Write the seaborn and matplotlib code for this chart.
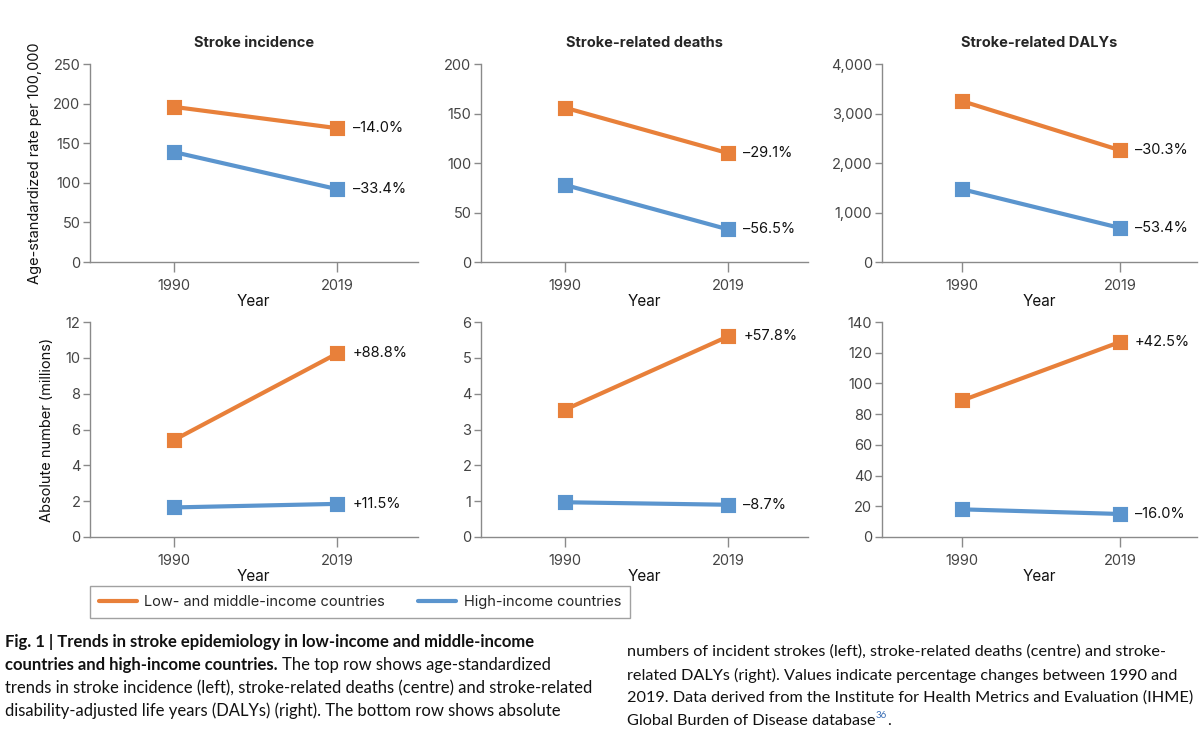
import matplotlib
matplotlib.use("Agg")
import matplotlib.pyplot as plt
from matplotlib.lines import Line2D
from matplotlib.ticker import FuncFormatter
import pandas as pd
import seaborn as sns

# values
years = ["1990", "2019"]
groups = ["Low- and middle-income countries", "High-income countries"]

incidence_rate_lmic = [196, 169]
incidence_rate_hic = [139, 92]
death_rate_lmic = [156, 110]
death_rate_hic = [78, 33]
daly_rate_lmic = [3250, 2260]
daly_rate_hic = [1470, 690]

incidence_abs_lmic = [5.4, 10.25]
incidence_abs_hic = [1.65, 1.85]
death_abs_lmic = [3.55, 5.6]
death_abs_hic = [0.97, 0.9]
daly_abs_lmic = [89, 127]
daly_abs_hic = [18, 15]

change_labels = [
    ["\u201314.0%", "\u201333.4%"],
    ["\u201329.1%", "\u201356.5%"],
    ["\u201330.3%", "\u201353.4%"],
    ["+88.8%", "+11.5%"],
    ["+57.8%", "\u20138.7%"],
    ["+42.5%", "\u201316.0%"],
]

titles = ["Stroke incidence", "Stroke-related deaths", "Stroke-related DALYs"]
y_ticks = [
    [0, 50, 100, 150, 200, 250],
    [0, 50, 100, 150, 200],
    [0, 1000, 2000, 3000, 4000],
    [0, 2, 4, 6, 8, 10, 12],
    [0, 1, 2, 3, 4, 5, 6],
    [0, 20, 40, 60, 80, 100, 120, 140],
]
row_labels = ["Age-standardized rate per 100,000", "Absolute number (millions)"]

series = [
    (incidence_rate_lmic, incidence_rate_hic),
    (death_rate_lmic, death_rate_hic),
    (daly_rate_lmic, daly_rate_hic),
    (incidence_abs_lmic, incidence_abs_hic),
    (death_abs_lmic, death_abs_hic),
    (daly_abs_lmic, daly_abs_hic),
]

orange = "#E8803A"
blue = "#5B95CE"
palette = {groups[0]: orange, groups[1]: blue}
spine_gray = "#8a8a8a"
tick_gray = "#444444"

sns.set_style("ticks")
plt.rcParams["font.family"] = ["Inter", "DejaVu Sans"]

fig = plt.figure(figsize=(12, 7.32), dpi=100)

# axes boxes in figure fractions
col_x = [(0.075, 0.273), (0.401, 0.2725), (0.735, 0.2625)]
row_y = [(0.642, 0.2705), (0.2664, 0.2936)]

for i, (lmic, hic) in enumerate(series):
    row, col = divmod(i, 3)
    x0, w = col_x[col]
    y0, h = row_y[row]
    ax = fig.add_axes([x0, y0, w, h])

    df = pd.DataFrame({
        "year": years * 2,
        "value": list(lmic) + list(hic),
        "group": [groups[0]] * 2 + [groups[1]] * 2,
    })
    sns.pointplot(
        data=df, x="year", y="value", hue="group",
        order=years, hue_order=groups, palette=palette,
        markers="s", markersize=8.5, linewidth=3,
        errorbar=None, legend=False, ax=ax,
    )

    # percentage change next to the 2019 point
    for vals, lab in zip((lmic, hic), change_labels[i]):
        ax.annotate(lab, xy=(1, vals[1]), xytext=(11, 0),
                    textcoords="offset points", va="center", ha="left",
                    fontsize=10.5, color="#111111")

    ticks = y_ticks[i]
    ax.set_ylim(0, ticks[-1])
    ax.set_yticks(ticks)
    ax.set_xlim(-0.51, 1.49)
    if col == 2 and row == 0:
        ax.yaxis.set_major_formatter(FuncFormatter(lambda v, p: f"{int(v):,}"))

    for side in ["top", "right"]:
        ax.spines[side].set_visible(False)
    for side in ["left", "bottom"]:
        ax.spines[side].set_color(spine_gray)
        ax.spines[side].set_linewidth(1.0)
    ax.tick_params(axis="y", colors=spine_gray, labelcolor=tick_gray,
                   labelsize=10.5, length=5, width=1, pad=2)
    ax.tick_params(axis="x", colors=spine_gray, labelcolor=tick_gray,
                   labelsize=10.5, length=7, width=1, pad=5)

    ax.set_xlabel("Year", fontsize=11, color="#111111", labelpad=1)
    if col == 0:
        ax.set_ylabel(row_labels[row], fontsize=10.5, color="#111111", labelpad=8)
    else:
        ax.set_ylabel("")
    if row == 0:
        ax.set_title(titles[col], fontsize=10.5, fontweight="bold", pad=12)

# legend box
handles = [Line2D([0], [0], color=orange, lw=3),
           Line2D([0], [0], color=blue, lw=3)]
leg = fig.legend(handles, groups, loc="center", bbox_to_anchor=(0.300, 0.1776),
                 ncol=2, frameon=True, fancybox=False, fontsize=10.5,
                 handlelength=2.6, columnspacing=2.3, borderpad=0.6,
                 handletextpad=0.5)
leg.get_frame().set_edgecolor(spine_gray)
leg.get_frame().set_linewidth(1.0)

# caption, two columns
W, H = 1200, 732
cap_font = ["Lato", "DejaVu Sans"]
fig.canvas.draw()
renderer = fig.canvas.get_renderer()


def put_runs(x_px, y_px, runs, size):
    x = x_px / W
    for text, bold in runs:
        t = fig.text(x, 1 - y_px / H, text, fontsize=size, va="center",
                     ha="left", family=cap_font,
                     fontweight="bold" if bold else "normal", color="#111111")
        bb = t.get_window_extent(renderer)
        x = bb.x1 / W
    return x


left_lines = [
    [("Fig. 1 | Trends in stroke epidemiology in low-income and middle-income", True)],
    [("countries and high-income countries. ", True),
     ("The top row shows age-standardized", False)],
    [("trends in stroke incidence (left), stroke-related deaths (centre) and stroke-related", False)],
    [("disability-adjusted life years (DALYs) (right). The bottom row shows absolute", False)],
]
right_lines = [
    "numbers of incident strokes (left), stroke-related deaths (centre) and stroke-",
    "related DALYs (right). Values indicate percentage changes between 1990 and",
    "2019. Data derived from the Institute for Health Metrics and Evaluation (IHME)",
]
left_size = 12.0
right_size = 11.7
for k, runs in enumerate(left_lines):
    put_runs(5, 642 + 23 * k, runs, left_size)
for k, line in enumerate(right_lines):
    put_runs(627, 652 + 23 * k, [(line, False)], right_size)

last_y = 652 + 23 * 3
end_x = put_runs(627, last_y, [("Global Burden of Disease database", False)], right_size)
sup = fig.text(end_x, 1 - (last_y - 6) / H, "36", fontsize=7,
               va="center", ha="left", family=cap_font, color="#3b6fb6")
bb = sup.get_window_extent(renderer)
fig.text(bb.x1 / W, 1 - last_y / H, ".", fontsize=right_size,
         va="center", ha="left", family=cap_font, color="#111111")

fig.savefig("out.png", dpi=100)
plt.close(fig)
